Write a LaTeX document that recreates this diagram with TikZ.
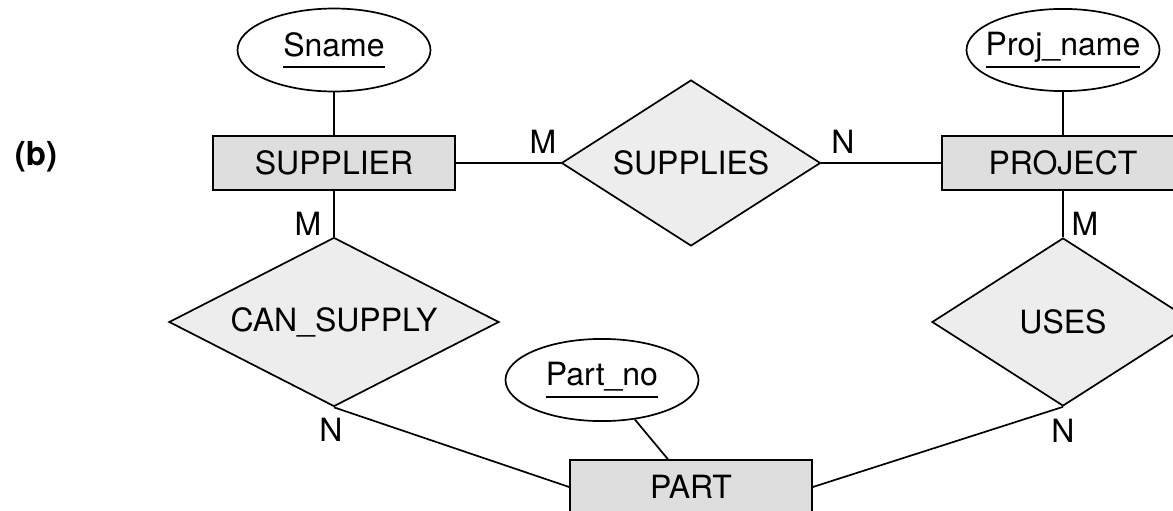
\documentclass[tikz,border=0pt]{standalone}
\usepackage{fontspec}
\setmainfont{TeX Gyre Heros}
\usetikzlibrary{shapes.geometric}

\newcommand{\keyattr}[1]{\vtop{\hbox{#1\vphantom{j}}\kern3pt\hrule height 1.8pt}}

\begin{document}
\begin{tikzpicture}[
    x=1pt, y=-1pt,
    every node/.style={font=\fontsize{32pt}{38pt}\selectfont},
    entity/.style={rectangle, draw, fill=black!13, line width=1.7pt, minimum width=242pt, minimum height=54pt},
    relation/.style={diamond, draw, fill=black!7, line width=1.7pt, aspect=2, inner sep=0pt},
    attribute/.style={ellipse, draw, line width=1.7pt, minimum width=193pt, minimum height=82pt, inner ysep=11.5pt, inner xsep=-12pt},
    card/.style={inner sep=0pt},
    link/.style={line width=1.7pt}
]
\useasboundingbox (0,0) rectangle (1173,511);
\clip (0,0) rectangle (1173,511);

% Entita
\node[entity] (supplier) at (334,163) {SUPPLIER};
\node[entity] (project) at (1063,163) {PROJECT};
\node[entity] (part) at (691,487) {PART};

% Attributi chiave
\node[attribute] (sname) at (334,50) {\keyattr{Sname}};
\node[attribute] (projname) at (1063,50) {\keyattr{Proj\_name}};
\node[attribute] (partno) at (602,380) {\keyattr{Part\_no}};

% Relazioni
\node[relation, minimum width=259pt, minimum height=166pt] (supplies) at (691,163) {SUPPLIES};
\node[relation, minimum width=330pt, minimum height=169pt] (cansupply) at (334,322) {CAN\_SUPPLY};
\node[relation, minimum width=262pt, minimum height=168pt] (uses) at (1063,322) {USES};

% Collegamenti
\draw[link] (sname) -- (supplier);
\draw[link] (projname) -- (project);
\draw[link] (partno) -- (part);
\draw[link] (supplier) -- (supplies);
\draw[link] (supplies) -- (project);
\draw[link] (supplier) -- (cansupply);
\draw[link] (project) -- (uses);
\draw[link] (cansupply.south) -- (part.west);
\draw[link] (uses.south) -- (part.east);

% Cardinalita
\node[card] (mSupplies) at (543,142) {M};
\node[card] (nSupplies) at (843,142) {N};
\node[card] (mCanSupply) at (308,224) {M};
\node[card] (nCanSupply) at (331,430) {N};
\node[card] (mUses) at (1085,224) {M};
\node[card] (nUses) at (1063,431) {N};

% Etichetta
\node[font=\fontsize{33pt}{40pt}\selectfont\bfseries] (tag) at (36,157) {(b)};

\end{tikzpicture}
\end{document}
